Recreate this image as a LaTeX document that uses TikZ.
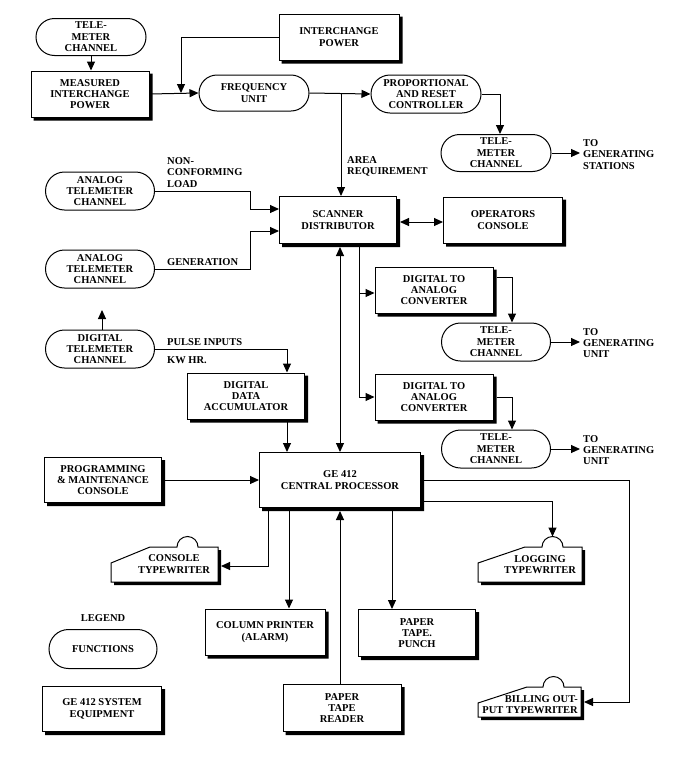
\documentclass[tikz,border=0pt]{standalone}
\usepackage{fontspec}
\setmainfont{Liberation Serif}
\usetikzlibrary{arrows.meta,shapes.misc,calc}
\newcommand\shadowof[1]{%
  \fill[black] ($(#1.north east)+(0,3)$) -- ++(3.2,0) -- ($(#1.south east)+(3.2,3.2)$) -- ($(#1.south west)+(3,3.2)$) -- ++(0,-3.2) -- (#1.south east) -- cycle;
}
\newcommand\typewriter[4]{%
  \draw[line width=1pt, fill=white] (#1.south west) -- ++(0,-#2) -- ($(#1.north west)+(#3,0)$) -- ($(#1.north west)+(#4,0)$) arc[start angle=180,end angle=0,radius=10.5pt] -- (#1.north east) -- (#1.south east) -- cycle;
  \shadowof{#1}
}
\begin{document}
\begin{tikzpicture}[x=1pt,y=-1pt,
  font=\bfseries\fontsize{10.5}{11.4}\selectfont,
  box/.style={draw, line width=1pt, fill=white, align=center, inner sep=1pt},
  pill/.style={draw, rounded rectangle, line width=1pt, align=center, inner sep=1pt, fill=white},
  lbl/.style={inner sep=0pt, align=left, anchor=west},
  tw/.style={minimum width=#1, inner sep=0pt, outer sep=0pt},
  arr/.style={line width=1pt, -{Triangle[length=9pt,width=8pt]}},
  dbl/.style={line width=1pt, {Triangle[length=9pt,width=8pt]}-{Triangle[length=9pt,width=8pt]}}
]
\useasboundingbox (0,0) rectangle (685,766);

% function pills
\node[pill, minimum width=112pt, minimum height=37pt] (tm1) at (91,37) {TELE-\\METER\\CHANNEL};
\node[pill, minimum width=112pt, minimum height=36pt] (fu) at (254,93) {FREQUENCY\\UNIT};
\node[pill, minimum width=112pt, minimum height=38pt] (prc) at (426,94) {PROPORTIONAL\\AND RESET\\CONTROLLER};
\node[pill, minimum width=112pt, minimum height=37pt] (tm2) at (496,153) {TELE-\\METER\\CHANNEL};
\node[pill, minimum width=111pt, minimum height=38pt] (atc1) at (100,191) {ANALOG\\TELEMETER\\CHANNEL};
\node[pill, minimum width=111pt, minimum height=38pt] (atc2) at (100,269) {ANALOG\\TELEMETER\\CHANNEL};
\node[pill, minimum width=111pt, minimum height=38pt] (dtc) at (100,349) {DIGITAL\\TELEMETER\\CHANNEL};
\node[pill, minimum width=111pt, minimum height=38pt] (tm3) at (496,342) {TELE-\\METER\\CHANNEL};
\node[pill, minimum width=111pt, minimum height=38pt] (tm4) at (496,449) {TELE-\\METER\\CHANNEL};
\node[pill, minimum width=110pt, minimum height=39pt] (fn) at (103,649) {FUNCTIONS};

% equipment boxes
\node[box, minimum width=118pt, minimum height=46pt] (mip) at (90,94) {MEASURED\\INTERCHANGE\\POWER};
\node[box, minimum width=120pt, minimum height=46pt] (ip) at (339,37) {INTERCHANGE\\POWER};
\node[box, minimum width=117pt, minimum height=47pt] (sd) at (338,220) {SCANNER\\DISTRIBUTOR};
\node[box, minimum width=119pt, minimum height=46pt] (oc) at (503,220) {OPERATORS\\CONSOLE};
\node[box, minimum width=117pt, minimum height=46pt] (dda) at (246,396) {DIGITAL\\DATA\\ACCUMULATOR};
\node[box, minimum width=118pt, minimum height=46pt] (dac1) at (434,290) {DIGITAL TO\\ANALOG\\CONVERTER};
\node[box, minimum width=118pt, minimum height=46pt] (dac2) at (434,397) {DIGITAL TO\\ANALOG\\CONVERTER};
\node[box, minimum width=161pt, minimum height=55pt] (cp) at (340,480) {GE 412\\CENTRAL PROCESSOR};
\node[box, minimum width=117pt, minimum height=45pt] (pmc) at (103,480) {PROGRAMMING\\\& MAINTENANCE\\CONSOLE};
\node[box, minimum width=120pt, minimum height=46pt] (colp) at (265,632) {COLUMN PRINTER\\(ALARM)};
\node[box, minimum width=117pt, minimum height=47pt] (ptp) at (417,633) {PAPER\\TAPE.\\PUNCH};
\node[box, minimum width=118pt, minimum height=47pt] (ptr) at (342,708) {PAPER\\TAPE\\READER};
\node[box, minimum width=119pt, minimum height=45pt] (gse) at (102,709) {GE 412 SYSTEM\\EQUIPMENT};
\node (leg) at (103,618) {LEGEND};
\foreach \n in {mip,ip,sd,oc,dda,dac1,dac2,cp,pmc,colp,ptp,ptr,gse} {\shadowof{\n}}

% typewriters
\node[tw=107pt, minimum height=35pt] (ctw) at (164.5,564.5) {};
\node[tw=104pt, minimum height=35pt] (ltw) at (530,564.5) {};
\node[tw=103pt, minimum height=30pt] (btw) at (529.5,702) {};
\typewriter{ctw}{19}{39}{66}
\typewriter{ltw}{19}{47}{64}
\typewriter{btw}{14}{49}{65}
\node[align=center, inner sep=0pt] (ctwt) at (174,564) {CONSOLE\\TYPEWRITER};
\node[align=center, inner sep=0pt] (ltwt) at (540,564.5) {LOGGING\\TYPEWRITER};
\node[align=right, inner sep=0pt, anchor=east] (btwt) at (578,704.5) {BILLING OUT-\\PUT TYPEWRITER};
\coordinate (ltwbump) at ($(ltw.north west)+(74.5,-10.5)$);

% labels
\node[lbl] (lnc) at (167,172.5) {NON-\\CONFORMING\\LOAD};
\node[lbl] (lar) at (347,166.5) {AREA\\REQUIREMENT};
\node[lbl] (lgen) at (167,262) {GENERATION};
\node[lbl] (lpi) at (167,342) {PULSE INPUTS};
\node[lbl] (lkw) at (167,360) {KW HR.};
\node[lbl] (lst) at (583,154.5) {TO\\GENERATING\\STATIONS};
\node[lbl] (lu1) at (583,343) {TO\\GENERATING\\UNIT};
\node[lbl] (lu2) at (583,450) {TO\\GENERATING\\UNIT};

% coordinates
\coordinate (j1) at (181,93);
\coordinate (j2) at (341,93);
\coordinate (k1) at (250,209);
\coordinate (k2) at (250,231);
\coordinate (o1) at (580,153);
\coordinate (o2) at (580,342);
\coordinate (o3) at (580,449);
\coordinate (up1) at (102,310);
\coordinate (b1) at (359,247);
\coordinate (d1in) at ([yshift=-3pt]dac1.west);

% connectors
\draw[arr] (tm1.south) -- (tm1.south |- mip.north);
\draw[arr] (mip.east) -- (fu.west);
\draw[arr] (ip.west) -| (j1);
\draw[arr] (fu.east) -- (prc.west);
\draw[arr] (j2) -- (j2 |- sd.north);
\draw[arr] (prc.east) -| ([xshift=4pt]tm2.north);
\draw[arr] (tm2.east) -- (o1);
\draw[arr] (atc1.east) -| (k1) -- (k1 -| sd.west);
\draw[arr] (atc2.east) -| (k2) -- (k2 -| sd.west);
\draw[arr] ([xshift=2pt]dtc.north) -- (up1);
\draw[arr] (dtc.east) -| ([xshift=41pt]dda.north);
\draw[arr] ([xshift=41pt]dda.south) -- ([xshift=41pt]dda.south |- cp.north);
\draw[dbl] ([yshift=-3pt]cp.north |- sd.south) -- (cp.north);
\draw[dbl] ([yshift=-2pt,xshift=3pt]sd.east) -- ([yshift=-2pt]oc.west);
\draw[arr] (b1) |- (dac2.west);
\draw[arr] (b1 |- d1in) -- (d1in);
\draw[arr] ([yshift=13pt,xshift=3pt]dac1.east) -| ([xshift=16pt]tm3.north);
\draw[arr] ([xshift=3pt]dac2.east) -| ([xshift=16pt]tm4.north);
\draw[arr] (tm3.east) -- (o2);
\draw[arr] (tm4.east) -- (o3);
\draw[arr] ([xshift=3pt]pmc.east) -- (pmc.east -| cp.west);
\draw[arr] ([xshift=-72pt,yshift=-3pt]cp.south) |- ([yshift=-1.5pt,xshift=3pt]ctw.east);
\draw[arr] ([xshift=-51pt,yshift=-3pt]cp.south) -- ([xshift=-51pt]cp.south |- colp.north);
\draw[arr] (cp.south |- ptr.north) -- ([yshift=-3pt]cp.south);
\draw[arr] ([xshift=52pt,yshift=-3pt]cp.south) -- ([xshift=52pt]cp.south |- ptp.north);
\draw[arr] ([xshift=3pt]cp.east) -- ++(205,0) |- ([xshift=3pt]btw.east);
\draw[arr] ([yshift=-21pt,xshift=3pt]cp.east) -| (ltwbump);
\end{tikzpicture}
\end{document}
